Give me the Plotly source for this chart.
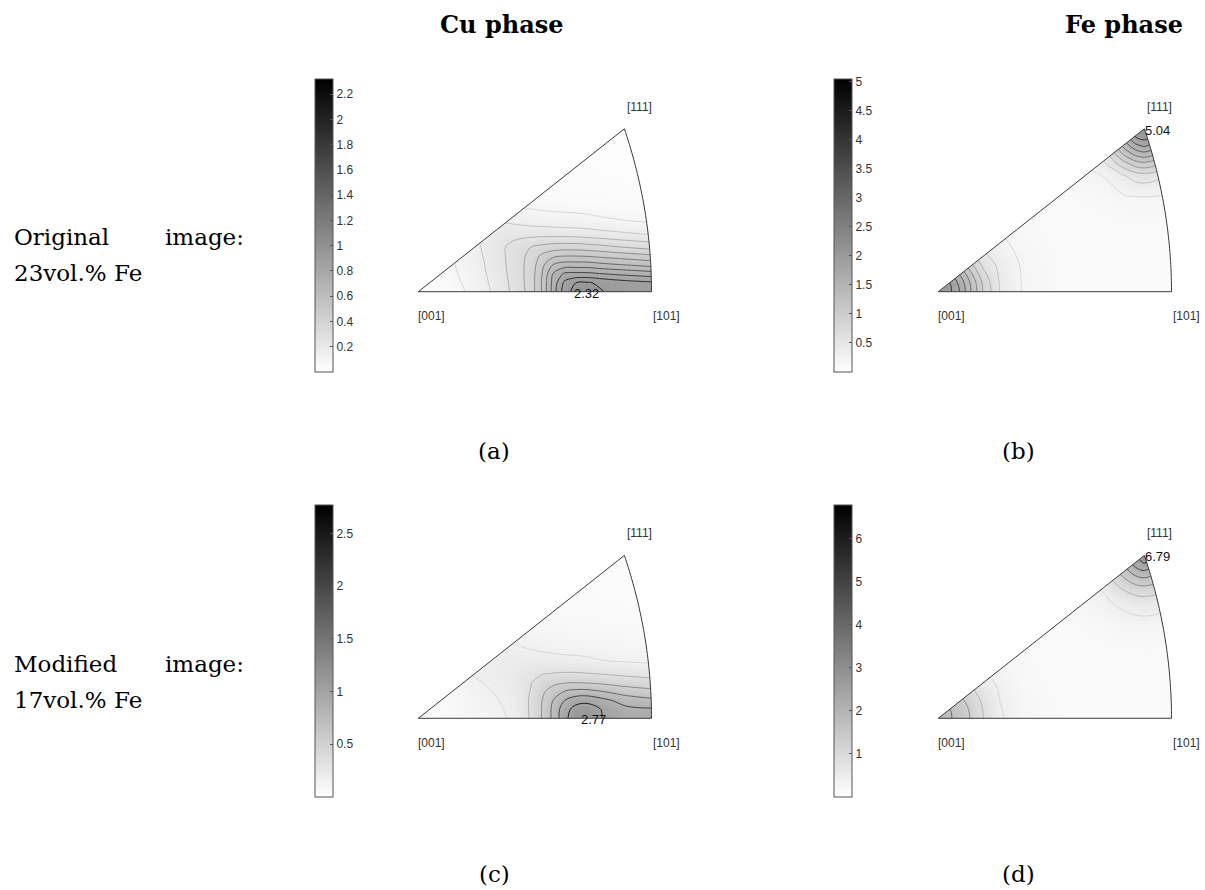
import numpy as np
import plotly.graph_objects as go

W, H = 1205, 890

# ---------------- data (orientation density) ----------------
# grid positions in stereographic coordinates of the [001]-[101]-[111] sector
cu_x = [0, .05, .10, .14, .17, .20, .22, .24, .26, .28, .30, .33, .37, .42]
cu_y = [0, .02, .04, .06, .08, .10, .13, .16, .20, .25, .30, .37]

cu23_z = [
    [.05, .10, .25, .46, .65, .88, 1.22, 1.70, 2.12, 2.28, 2.32, 2.20, 2.12, 2.10],
    [.06, .12, .27, .48, .66, .89, 1.22, 1.68, 2.05, 2.20, 2.22, 2.15, 2.08, 2.03],
    [.07, .14, .29, .50, .67, .89, 1.20, 1.62, 1.84, 1.85, 1.85, 1.80, 1.75, 1.69],
    [.08, .15, .31, .51, .68, .88, 1.15, 1.42, 1.50, 1.50, 1.50, 1.45, 1.40, 1.33],
    [.09, .16, .33, .52, .68, .86, 1.05, 1.16, 1.20, 1.20, 1.19, 1.15, 1.10, 1.04],
    [.10, .17, .35, .53, .67, .80, .86, .90, .91, .91, .89, .85, .79, .72],
    [.10, .18, .37, .50, .53, .53, .53, .52, .52, .51, .49, .46, .42, .38],
    [.10, .18, .33, .38, .35, .31, .29, .28, .27, .26, .25, .22, .20, .17],
    [.09, .15, .22, .20, .17, .14, .13, .12, .12, .12, .11, .11, .10, .10],
    [.08, .12, .14, .12, .10, .09, .09, .08, .08, .08, .08, .08, .07, .07],
    [.07, .09, .10, .09, .08, .07, .07, .07, .07, .07, .07, .06, .06, .06],
    [.06, .06, .06, .06, .06, .06, .06, .06, .06, .06, .06, .06, .06, .06],
]

cu17_z = [
    [.10, .15, .25, .33, .45, .85, 1.22, 1.70, 2.30, 2.65, 2.75, 2.35, 2.18, 2.15],
    [.10, .15, .27, .36, .47, .85, 1.22, 1.70, 2.25, 2.55, 2.60, 2.35, 2.10, 2.05],
    [.10, .16, .30, .39, .50, .85, 1.20, 1.62, 2.00, 2.25, 2.30, 2.10, 1.82, 1.68],
    [.10, .17, .33, .42, .52, .82, 1.12, 1.40, 1.62, 1.72, 1.72, 1.60, 1.42, 1.30],
    [.10, .17, .37, .45, .54, .78, .98, 1.10, 1.18, 1.20, 1.18, 1.12, 1.02, .95],
    [.10, .17, .42, .47, .55, .68, .78, .82, .84, .84, .82, .78, .72, .65],
    [.10, .18, .45, .47, .50, .50, .49, .48, .47, .46, .44, .40, .36, .33],
    [.10, .17, .40, .42, .42, .38, .35, .33, .30, .30, .29, .27, .25, .23],
    [.10, .15, .25, .28, .30, .26, .24, .22, .20, .20, .19, .18, .17, .16],
    [.10, .13, .16, .17, .17, .16, .15, .15, .14, .14, .14, .13, .12, .12],
    [.10, .12, .12, .12, .12, .12, .12, .11, .11, .11, .11, .10, .10, .10],
    [.10, .10, .10, .10, .10, .10, .10, .10, .10, .10, .10, .10, .10, .10],
]

fe_x = [0, .02, .04, .06, .08, .11, .15, .22, .29, .33, .35, .366, .39, .42]
fe_y = [0, .02, .04, .06, .08, .11, .15, .21, .26, .29, .31, .33, .35, .366, .385]

fe23_z = [
    [4.90, 4.62, 3.93, 2.90, 1.95, .95, .47, .28, .25, .25, .25, .25, .25, .25],
    [4.70, 4.52, 3.78, 2.82, 1.88, .94, .47, .28, .25, .25, .25, .25, .25, .25],
    [4.29, 4.05, 3.38, 2.50, 1.63, .90, .46, .28, .25, .25, .25, .25, .25, .25],
    [3.61, 3.35, 2.82, 2.05, 1.38, .85, .44, .28, .25, .25, .25, .25, .25, .25],
    [2.75, 2.60, 2.20, 1.60, 1.13, .70, .42, .28, .25, .25, .25, .25, .25, .25],
    [1.60, 1.48, 1.30, 1.03, .85, .58, .37, .27, .25, .26, .26, .26, .26, .25],
    [.85, .83, .77, .66, .53, .43, .32, .26, .27, .28, .28, .28, .28, .27],
    [.40, .39, .37, .35, .34, .31, .28, .27, .34, .42, .44, .45, .43, .38],
    [.30, .30, .30, .29, .28, .27, .26, .30, .49, .96, 1.19, 1.26, 1.12, .77],
    [.28, .27, .27, .26, .26, .25, .25, .31, .84, 1.88, 2.33, 2.47, 2.17, 1.39],
    [.25, .25, .25, .25, .25, .25, .25, .33, 1.10, 2.62, 3.16, 3.34, 2.96, 1.88],
    [.25, .25, .25, .25, .25, .25, .25, .33, 1.38, 3.24, 3.92, 4.15, 3.71, 2.40],
    [.25, .25, .25, .25, .25, .25, .25, .33, 1.56, 3.67, 4.55, 4.78, 4.21, 2.70],
    [.25, .25, .25, .25, .25, .25, .25, .33, 1.58, 3.74, 4.65, 5.04, 4.38, 2.75],
    [.25, .25, .25, .25, .25, .25, .25, .33, 1.54, 3.62, 4.50, 4.69, 4.14, 2.70],
]

fe17_z = [
    [4.30, 4.10, 3.62, 2.85, 2.00, 1.08, .60, .34, .30, .30, .30, .30, .30, .30],
    [4.14, 4.04, 3.50, 2.77, 1.95, 1.04, .59, .34, .30, .30, .30, .30, .30, .30],
    [3.93, 3.71, 3.20, 2.53, 1.82, .98, .57, .34, .30, .30, .30, .30, .30, .30],
    [3.34, 3.18, 2.77, 2.15, 1.60, .92, .53, .33, .30, .30, .30, .30, .30, .30],
    [2.72, 2.58, 2.23, 1.78, 1.32, .84, .49, .33, .30, .30, .30, .30, .30, .30],
    [1.78, 1.71, 1.52, 1.20, .94, .71, .46, .32, .30, .31, .31, .31, .31, .30],
    [.94, .92, .86, .78, .68, .50, .41, .31, .33, .36, .37, .38, .37, .35],
    [.49, .48, .47, .45, .43, .40, .34, .32, .49, .64, .68, .69, .67, .58],
    [.36, .36, .35, .34, .33, .32, .31, .38, .81, 1.22, 1.41, 1.47, 1.35, .97],
    [.30, .30, .30, .30, .30, .30, .30, .42, 1.03, 2.06, 2.50, 2.62, 2.36, 1.58],
    [.30, .30, .30, .30, .30, .30, .30, .45, 1.30, 2.79, 3.44, 3.64, 3.20, 2.06],
    [.30, .30, .30, .30, .30, .30, .30, .47, 1.58, 3.53, 4.51, 4.87, 4.16, 2.56],
    [.30, .30, .30, .30, .30, .30, .30, .48, 1.73, 4.08, 5.53, 6.09, 4.96, 2.87],
    [.30, .30, .30, .30, .30, .30, .30, .48, 1.78, 4.26, 5.85, 6.79, 5.22, 2.95],
    [.30, .30, .30, .30, .30, .30, .30, .48, 1.72, 4.01, 5.41, 5.94, 4.87, 2.84],
]

max_values = [2.32, 5.04, 2.77, 6.79]
max_labels = ["2.32", "5.04", "2.77", "6.79"]
max_pos = [(0.275, 0.0), (0.366, 0.366), (0.287, 0.0), (0.366, 0.366)]
cbar_ticks = [
    [0.2, 0.4, 0.6, 0.8, 1, 1.2, 1.4, 1.6, 1.8, 2, 2.2],
    [0.5, 1, 1.5, 2, 2.5, 3, 3.5, 4, 4.5, 5],
    [0.5, 1, 1.5, 2, 2.5],
    [1, 2, 3, 4, 5, 6],
]
contour_levels = [(0.2, 2.2, 0.2), (0.5, 5.0, 0.5), (0.4, 2.4, 0.4), (1, 6, 1)]
pole_labels = ["[001]", "[101]", "[111]"]
col_titles = ["Cu phase", "Fe phase"]
row_titles = [("Original", "image:", "23vol.% Fe"), ("Modified", "image:", "17vol.% Fe")]
sub_captions = ["(a)", "(b)", "(c)", "(d)"]

# ---------------- geometry of the stereographic sector ----------------
def stereo(v):
    v = np.asarray(v, float)
    v = v / np.linalg.norm(v)
    return v[0] / (1 + v[2]), v[1] / (1 + v[2])

P001 = stereo([0, 0, 1])
P101 = stereo([1, 0, 1])
P111 = stereo([1, 1, 1])
a = np.array([1, 0, 1]) / np.sqrt(2)
b = np.array([1, 1, 1]) / np.sqrt(3)
arc = [stereo((1 - t) * a + t * b) for t in np.linspace(0, 1, 41)]
sector = [P001] + arc
sector_path = "M" + "L".join(f"{px:.5f},{py:.5f}" for px, py in sector) + "Z"

# ---------------- layout helpers ----------------
SX, SY = 563.0, 445.0                  # pixels per stereographic unit
XR, YR = (-0.03, 0.45), (-0.03, 0.40)  # axis ranges
origins = [(418.3, 291.7), (938.3, 291.7), (418.3, 718.3), (938.3, 718.3)]
cbar_left = [315.0, 834.3, 315.0, 834.3]
cbar_span = [(79.0, 372.0), (79.0, 372.0), (505.0, 796.7), (505.0, 796.7)]

fill_scale = [[0, "rgb(255,255,255)"], [1, "rgb(148,148,148)"]]
line_scale = [[0, "rgb(215,215,215)"], [1, "rgb(30,30,30)"]]
bar_scale = [[0, "rgb(255,255,255)"], [1, "rgb(0,0,0)"]]

panels = [
    (cu_x, cu_y, cu23_z),
    (fe_x, fe_y, fe23_z),
    (cu_x, cu_y, cu17_z),
    (fe_x, fe_y, fe17_z),
]

fig = go.Figure()
shapes, annotations = [], []
layout_axes = {}
tick_font = dict(family="Liberation Sans, Arial, sans-serif", size=12, color="#333333")

for i, (gx, gy, gz) in enumerate(panels):
    n = i + 1
    xa = "x" if n == 1 else f"x{n}"
    ya = "y" if n == 1 else f"y{n}"
    ox, oy = origins[i]
    zmax = max_values[i]
    s, e, d = contour_levels[i]

    fig.add_trace(go.Heatmap(x=gx, y=gy, z=gz, zmin=0, zmax=zmax, zsmooth="best",
                             colorscale=fill_scale, showscale=False, hoverinfo="skip",
                             xaxis=xa, yaxis=ya))
    fig.add_trace(go.Contour(x=gx, y=gy, z=gz, zmin=0, zmax=zmax, autocontour=False,
                             contours=dict(start=s, end=e, size=d, coloring="lines"),
                             colorscale=line_scale, line=dict(width=1, smoothing=1.0),
                             showscale=False, hoverinfo="skip", xaxis=xa, yaxis=ya))
    top, bot = cbar_span[i]
    fig.add_trace(go.Scatter(
        x=[P001[0]], y=[P001[1]], mode="markers", hoverinfo="skip", xaxis=xa, yaxis=ya,
        marker=dict(size=1, opacity=0, color=[zmax], cmin=0, cmax=zmax, colorscale=bar_scale,
                    showscale=True,
                    colorbar=dict(x=cbar_left[i] / W, xanchor="left", xref="paper",
                                  y=1 - (top + bot) / 2 / H, yanchor="middle", yref="paper",
                                  len=(bot - top) / H, lenmode="fraction",
                                  thickness=18, thicknessmode="pixels", xpad=0, ypad=0,
                                  outlinewidth=1, outlinecolor="#555555",
                                  tickvals=cbar_ticks[i], ticks="inside", ticklen=3,
                                  tickcolor="#555555", tickfont=tick_font))))

    dom_x = [(ox + SX * XR[0]) / W, (ox + SX * XR[1]) / W]
    dom_y = [1 - (oy - SY * YR[0]) / H, 1 - (oy - SY * YR[1]) / H]
    axis_common = dict(visible=False, showgrid=False, zeroline=False, fixedrange=True)
    layout_axes["xaxis" if n == 1 else f"xaxis{n}"] = dict(domain=dom_x, range=list(XR),
                                                           anchor=ya, **axis_common)
    layout_axes["yaxis" if n == 1 else f"yaxis{n}"] = dict(domain=dom_y, range=list(YR),
                                                           anchor=xa, **axis_common)

    # white mask outside the sector + sector outline
    rect = (f"M{XR[0]},{YR[0]}L{XR[1]},{YR[0]}L{XR[1]},{YR[1]}L{XR[0]},{YR[1]}Z")
    shapes.append(dict(type="path", path=rect + sector_path, xref=xa, yref=ya,
                       fillcolor="white", fillrule="evenodd", line=dict(width=0),
                       layer="above"))
    shapes.append(dict(type="path", path=sector_path, xref=xa, yref=ya,
                       fillcolor="rgba(0,0,0,0)", line=dict(color="#3a3a3a", width=1),
                       layer="above"))

    # pole labels
    for lab, pt, (dx, dy) in zip(pole_labels, [P001, P101, P111],
                                 [(13.4, -24.3), (14.7, -24.3), (15.0, 22.0)]):
        annotations.append(dict(text=lab, x=pt[0], y=pt[1], xref=xa, yref=ya,
                                xshift=dx, yshift=dy, showarrow=False,
                                xanchor="center", yanchor="middle", font=tick_font))
    # maximum label
    mx, my = max_pos[i]
    annotations.append(dict(text=max_labels[i], x=mx, y=my, xref=xa, yref=ya,
                            xshift=-1, yshift=-1.5, showarrow=False, xanchor="left",
                            yanchor="middle",
                            font=dict(family="Liberation Sans, Arial, sans-serif",
                                      size=13, color="#111111")))

serif = "DejaVu Serif, Liberation Serif, serif"
# column titles
for t, cx in zip(col_titles, [501, 1124]):
    annotations.append(dict(text=f"<b>{t}</b>", x=cx / W, y=1 - 24 / H, xref="paper",
                            yref="paper", showarrow=False, xanchor="center",
                            yanchor="middle", font=dict(family=serif, size=24, color="black")))
# row titles
for (w1, w2, w3), cy in zip(row_titles, [237, 663.6]):
    big = dict(family=serif, size=23, color="black")
    annotations.append(dict(text=w1, x=12 / W, y=1 - cy / H, xref="paper", yref="paper",
                            showarrow=False, xanchor="left", yanchor="middle", font=big))
    annotations.append(dict(text=w2, x=246 / W, y=1 - cy / H, xref="paper", yref="paper",
                            showarrow=False, xanchor="right", yanchor="middle", font=big))
    annotations.append(dict(text=w3, x=12 / W, y=1 - (cy + 36) / H, xref="paper",
                            yref="paper", showarrow=False, xanchor="left",
                            yanchor="middle", font=big))
# sub-figure captions
for cap, (cx, cy) in zip(sub_captions, [(494, 451), (1018, 451), (494, 874), (1018, 874)]):
    annotations.append(dict(text=cap, x=cx / W, y=1 - cy / H, xref="paper", yref="paper",
                            showarrow=False, xanchor="center", yanchor="middle",
                            font=dict(family=serif, size=23, color="black")))

fig.update_layout(width=W, height=H, margin=dict(l=0, r=0, t=0, b=0),
                  paper_bgcolor="white", plot_bgcolor="white", showlegend=False,
                  shapes=shapes, annotations=annotations, **layout_axes)

fig.write_html("out.html")
